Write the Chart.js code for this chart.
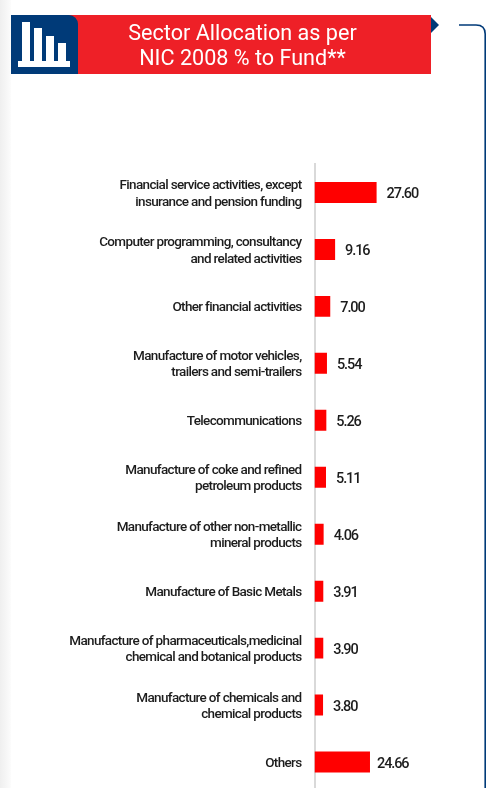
<!DOCTYPE html>
<html>
<head>
<meta charset="utf-8">
<title>Sector Allocation</title>
<script src="https://cdn.jsdelivr.net/npm/chart.js@4"></script>
<style>
html, body { margin: 0; padding: 0; background: #fff; overflow: hidden; height: 788px; }
body { position: relative; width: 486px; font-family: Roboto, sans-serif; }
.franja { position: absolute; left: 0; top: 0; width: 11px; height: 788px; background: linear-gradient(to right, #efefef, #fcfcfc); }
.cabecalho { position: absolute; left: 11px; top: 15px; width: 420px; height: 59px; background: #ee2027; }
.titulo { position: absolute; left: 0; top: 5px; width: 463px; text-align: center; color: #fff; font-size: 21.6px; line-height: 25px; }
.icone { position: absolute; left: 0; top: 0; width: 67px; height: 59px; background: #003a78; border-top-right-radius: 9px; }
.icone i { position: absolute; background: #fff; display: block; }
svg.deco { position: absolute; left: 0; top: 0; }
#graficoSetores { position: absolute; left: 0; top: 0; }
</style>
</head>
<body>
<div class="franja"></div>
<canvas id="graficoSetores" width="486" height="820"></canvas>
<div class="cabecalho">
  <div class="titulo">Sector Allocation as per<br>NIC 2008 % to Fund**</div>
  <div class="icone">
    <i style="left:7px;top:46px;width:52px;height:6px"></i>
    <i style="left:11px;top:7px;width:8px;height:39px"></i>
    <i style="left:23px;top:13px;width:8px;height:33px"></i>
    <i style="left:35px;top:21px;width:8px;height:25px"></i>
    <i style="left:47px;top:28px;width:8px;height:18px"></i>
  </div>
</div>
<svg class="deco" width="486" height="788">
  <path d="M431 17 L439 25 L431 33 Z" fill="#003a78"/>
  <path d="M459 25 H476 Q485.2 25 485.2 34 V788" fill="none" stroke="#003a78" stroke-width="1.6"/>
</svg>
<script>
const setores = [
    ['Financial service activities, except', 'insurance and pension funding'],
    ['Computer programming, consultancy', 'and related activities'],
    'Other financial activities',
    ['Manufacture of motor vehicles,', 'trailers and semi-trailers'],
    'Telecommunications',
    ['Manufacture of coke and refined', 'petroleum products'],
    ['Manufacture of other non-metallic', 'mineral products'],
    'Manufacture of Basic Metals',
    ['Manufacture of pharmaceuticals,medicinal', 'chemical and botanical products'],
    ['Manufacture of chemicals and', 'chemical products'],
    'Others'
];
const valores = [27.60, 9.16, 7.00, 5.54, 5.26, 5.11, 4.06, 3.91, 3.90, 3.80, 24.66];

const corBarra = '#ff0000';
const corTexto = '#1c1c1c';
const corEixo = '#d9d9d9';

// condensa o texto e escreve o valor à frente de cada barra
const rotulosValor = {
    id: 'rotulosValor',
    beforeDraw(chart) {
        chart.ctx.letterSpacing = '-0.66px';
        // desce um pouco os nomes dos setores
        chart.scales.y.getLabelItems().forEach(item => {
            const [x, y] = item.options.translation;
            item.options.translation = [x, y + 1.5];
        });
    },
    afterDatasetsDraw(chart) {
        const ctx = chart.ctx;
        const barras = chart.getDatasetMeta(0).data;
        ctx.save();
        ctx.letterSpacing = '-1.1px';
        ctx.font = '500 14.5px Roboto';
        ctx.fillStyle = corTexto;
        ctx.textAlign = 'left';
        ctx.textBaseline = 'middle';
        barras.forEach((barra, i) => {
            // o rótulo de "Others" fica mais perto da barra
            const folga = i === barras.length - 1 ? 7 : 10;
            ctx.fillText(valores[i].toFixed(2), barra.x + folga, barra.y + 2);
        });
        ctx.restore();
    }
};

const ctx = document.getElementById('graficoSetores').getContext('2d');
new Chart(ctx, {
    type: 'bar',
    data: {
        labels: setores,
        datasets: [{
            data: valores,
            backgroundColor: corBarra,
            categoryPercentage: 1,
            barPercentage: 0.368
        }]
    },
    options: {
        indexAxis: 'y',
        responsive: false,
        animation: false,
        layout: {
            padding: { top: 164, bottom: 10.5, right: 59 }
        },
        scales: {
            x: {
                display: false,
                min: 0,
                max: 50
            },
            y: {
                afterFit: scale => { scale.width = 314.5; },
                grid: {
                    display: true,
                    drawOnChartArea: false,
                    drawTicks: false,
                    color: corEixo
                },
                border: {
                    color: corEixo,
                    width: 2
                },
                ticks: {
                    color: corTexto,
                    padding: 13,
                    autoSkip: false,
                    font: { family: 'Roboto', size: 13.5, weight: '500', lineHeight: 1.22 }
                }
            }
        },
        plugins: {
            legend: { display: false },
            tooltip: { enabled: false }
        }
    },
    plugins: [rotulosValor]
});
</script>
</body>
</html>
